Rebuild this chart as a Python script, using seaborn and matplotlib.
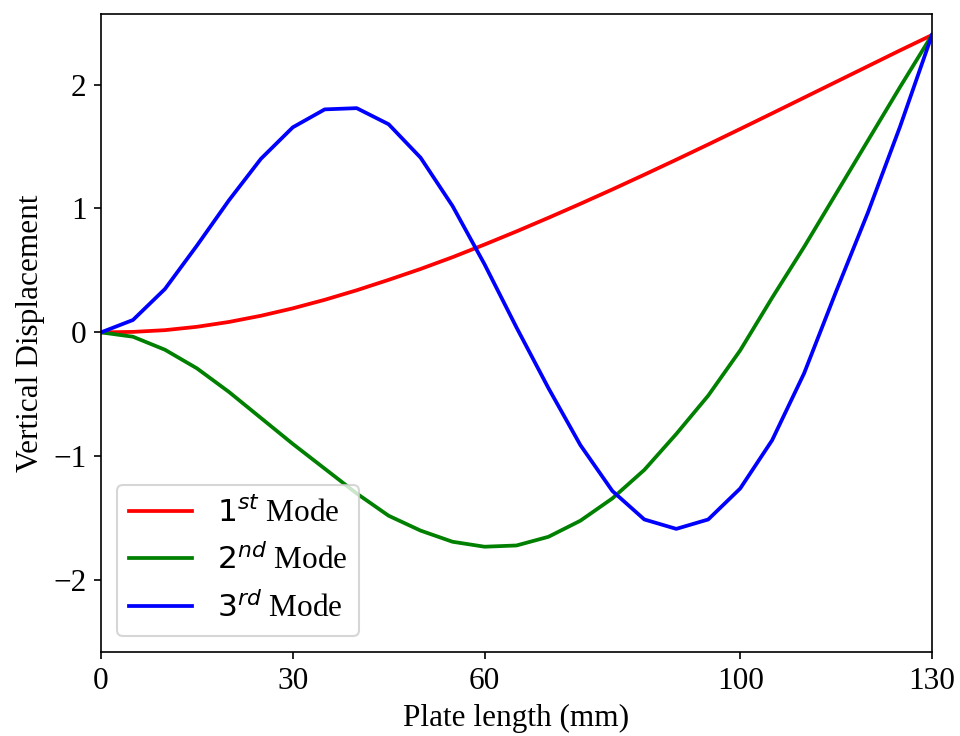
import matplotlib
matplotlib.use("Agg")
import matplotlib.pyplot as plt
import seaborn as sns
import pandas as pd

# Position along the plate (mm)
plate_x = [0, 5, 10, 15, 20, 25, 30, 35, 40, 45, 50, 55, 60, 65,
           70, 75, 80, 85, 90, 95, 100, 105, 110, 115, 120, 125, 130]

# Vertical displacement of the first three mode shapes
mode1 = [0, 0.004, 0.018, 0.045, 0.084, 0.134, 0.194, 0.263, 0.34, 0.424, 0.512, 0.607, 0.709, 0.815,
         0.925, 1.038, 1.154, 1.273, 1.394, 1.517, 1.642, 1.768, 1.895, 2.022, 2.149, 2.276, 2.40]
mode2 = [0, -0.035, -0.14, -0.29, -0.48, -0.69, -0.90, -1.10, -1.30, -1.48, -1.60, -1.69, -1.73, -1.72,
         -1.65, -1.52, -1.34, -1.11, -0.82, -0.51, -0.145, 0.28, 0.69, 1.12, 1.55, 1.98, 2.40]
mode3 = [0, 0.10, 0.35, 0.70, 1.065, 1.40, 1.655, 1.80, 1.81, 1.68, 1.41, 1.02, 0.55, 0.04,
         -0.45, -0.91, -1.28, -1.51, -1.586, -1.51, -1.26, -0.87, -0.33, 0.33, 0.97, 1.66, 2.40]

labels = [r"$1^{st}$ Mode", r"$2^{nd}$ Mode", r"$3^{rd}$ Mode"]
colors = ["red", "green", "blue"]
x_ticks = [0, 30, 60, 100, 130]
y_ticks = [-2, -1, 0, 1, 2]

plt.rcParams["font.family"] = ["Liberation Serif", "DejaVu Serif"]
plt.rcParams["font.size"] = 15

df = pd.DataFrame({"x": plate_x, "m1": mode1, "m2": mode2, "m3": mode3})

fig = plt.figure(figsize=(6.4, 736 / 150), dpi=150)
ax = fig.add_axes([0.1052, 0.1141, 0.8656, 0.8669])

for col, lab, c in zip(["m1", "m2", "m3"], labels, colors):
    sns.lineplot(data=df, x="x", y=col, ax=ax, color=c, label=lab, linewidth=1.8)

ax.set_xlim(0, 130)
ax.set_ylim(-2.58, 2.57)
ax.set_xticks(x_ticks)
ax.set_yticks(y_ticks)
ax.set_xlabel("Plate length (mm)")
ax.set_ylabel("Vertical Displacement")
ax.legend(loc="lower left", fontsize=15)

fig.savefig("out.png", dpi=150)
